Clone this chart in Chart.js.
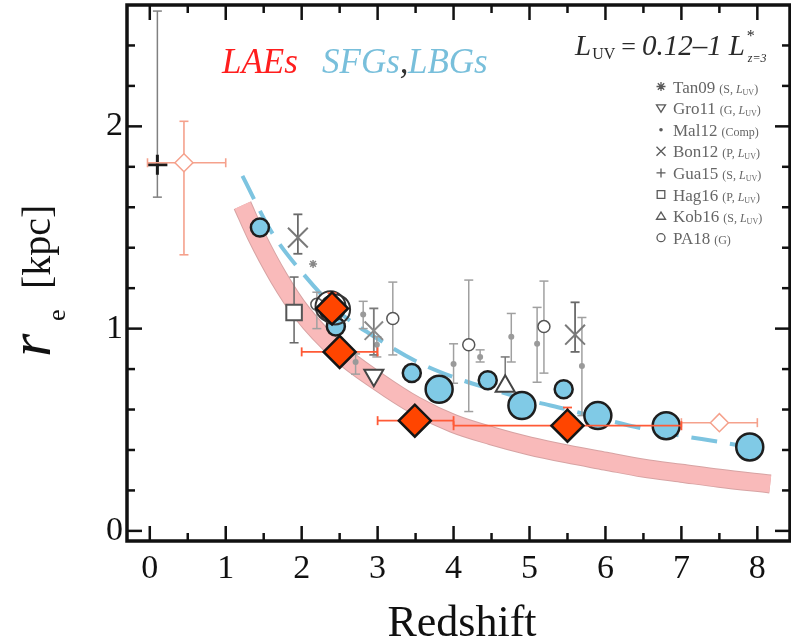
<!DOCTYPE html>
<html>
<head>
<meta charset="utf-8">
<script src="https://cdn.jsdelivr.net/npm/chart.js@4.4.0/dist/chart.umd.min.js"></script>
<style>
  html, body { margin: 0; padding: 0; background: #fff; }
</style>
</head>
<body>
<canvas id="chart" width="791" height="643"></canvas>
<script>
// === AXES
const xMajorTicks = [0, 1, 2, 3, 4, 5, 6, 7, 8];
const xMinorTicks = [0.5, 1.5, 2.5, 3.5, 4.5, 5.5, 6.5, 7.5];
const yMajorTicks = [0, 1, 2];
const yMinorTicks = [0.2, 0.4, 0.6, 0.8, 1.2, 1.4, 1.6, 1.8, 2.2, 2.4];

// === FITS
const laeFitZ = [1.22, 1.4, 1.7, 2.0, 2.5, 3.0, 3.5, 4.0, 4.5, 5.0, 5.5, 6.0, 6.5, 7.0, 7.5, 8.17];
const laeFitR = [1.61, 1.46, 1.25, 1.08, 0.88, 0.74, 0.62, 0.53, 0.47, 0.42, 0.38, 0.345, 0.31, 0.285, 0.26, 0.232];
const lbgFitZ = [1.22, 1.6, 2.0, 2.5, 3.0, 3.5, 4.0, 4.5, 5.0, 5.5, 6.0, 6.5, 7.0, 7.5, 8.1];
const lbgFitR = [1.755, 1.48, 1.28, 1.08, 0.95, 0.84, 0.76, 0.70, 0.645, 0.60, 0.55, 0.505, 0.47, 0.44, 0.40];

// === SFGs / LBGs (blue circles)
const sfgSmallZ = [1.45, 2.45, 3.45, 4.45, 5.45];
const sfgSmallR = [1.50, 1.01, 0.78, 0.745, 0.70];
const sfgLargeZ = [3.81, 4.90, 5.90, 6.80, 7.90];
const sfgLargeR = [0.70, 0.62, 0.57, 0.52, 0.415];
const ringZ = [2.38, 2.44];
const ringR = [1.11, 1.095];

// === LAEs (diamonds)
const laeZ = [2.40, 2.50, 3.49, 5.50];
const laeR = [1.10, 0.885, 0.545, 0.52];
const laeZLo = [2.40, 2.00, 3.00, 4.00];
const laeZHi = [2.40, 3.00, 4.00, 7.00];
const laeRLo = [1.10, 0.885, 0.545, 0.52];
const laeRHi = [1.175, 0.885, 0.545, 0.61];
const laeOpenZ = [0.45, 7.50];
const laeOpenR = [1.82, 0.535];
const laeOpenZLo = [-0.03, 7.00];
const laeOpenZHi = [1.00, 8.00];
const laeOpenRLo = [1.365, 0.535];
const laeOpenRHi = [2.025, 0.535];

// === literature points
const tanZ = [1.95, 5.60];
const tanR = [1.45, 0.97];
const tanRLo = [1.37, 0.885];
const tanRHi = [1.565, 1.13];
const tanSmallZ = [2.15];
const tanSmallR = [1.32];
const bonZ = [2.95];
const bonR = [0.99];
const bonRLo = [0.87];
const bonRHi = [1.10];
const groZ = [2.95];
const groR = [0.77];
const malZ = [2.71, 2.81, 2.99, 4.00, 4.35, 4.76, 5.10, 5.69];
const malR = [0.835, 1.07, 0.92, 0.825, 0.86, 0.96, 0.925, 0.815];
const malRLo = [0.775, 1.00, 0.86, 0.73, 0.835, 0.835, 0.735, 0.57];
const malRHi = [0.875, 1.135, 0.96, 0.925, 0.895, 1.075, 1.105, 1.055];
const guaZ = [0.10];
const guaR = [1.81];
const guaRLo = [1.65];
const guaRHi = [2.57];
const hagZ = [1.90];
const hagR = [1.08];
const hagRLo = [0.93];
const hagRHi = [1.255];
const kobZ = [4.68];
const kobR = [0.715];
const kobRLo = [0.715];
const kobRHi = [0.86];
const paZ = [2.20, 3.20, 4.20, 5.19];
const paR = [1.12, 1.05, 0.92, 1.01];
const paRLo = [1.00, 0.87, 0.59, 0.78];
const paRHi = [1.18, 1.23, 1.24, 1.235];

// === legend
const legendNames = ['Tan09', 'Gro11', 'Mal12', 'Bon12', 'Gua15', 'Hag16', 'Kob16', 'PA18'];
const legendNotes = ['S, L', 'G, L', 'Comp', 'P, L', 'S, L', 'P, L', 'S, L', 'G'];
const legendSymbols = ['star', 'triDown', 'dot', 'x', 'plus', 'square', 'triUp', 'circle'];

const SERIF = '"Liberation Serif", "Times New Roman", serif';
const pts = (xs, ys) => xs.map((v, i) => ({ x: v, y: ys[i] }));

function curve(xs, ys, o) {
  return Object.assign({ data: pts(xs, ys), showLine: true, pointRadius: 0, fill: false,
    cubicInterpolationMode: 'monotone' }, o);
}
function markers(xs, ys, o) {
  return Object.assign({ data: pts(xs, ys), showLine: false, pointHoverRadius: o.pointRadius }, o);
}

const GREY_ERR = '#a0a0a0';

const datasets = [
  curve(laeFitZ, laeFitR, { borderColor: '#d7a3a3', borderWidth: 19, order: 100 }),
  curve(laeFitZ, laeFitR, { borderColor: '#f9baba', borderWidth: 17, order: 99 }),
  curve(lbgFitZ, lbgFitR, { borderColor: '#7dc4e0', borderWidth: 4, borderDash: [26, 13], order: 90 }),

  markers(malZ, malR, { pointStyle: 'circle', pointRadius: 3, pointBackgroundColor: '#9a9a9a',
    pointBorderColor: '#9a9a9a', pointBorderWidth: 0, order: 60,
    err: { yLo: malRLo, yHi: malRHi, color: GREY_ERR, width: 1.5 } }),
  markers(paZ, paR, { pointStyle: 'circle', pointRadius: 6, pointBackgroundColor: '#fff',
    pointBorderColor: '#555', pointBorderWidth: 1.5, order: 56,
    err: { yLo: paRLo, yHi: paRHi, color: GREY_ERR, width: 1.5 } }),
  markers(tanSmallZ, tanSmallR, { pointStyle: 'star', pointRadius: 4, pointBorderColor: '#888',
    pointBorderWidth: 1.5, order: 55 }),
  markers(tanZ, tanR, { pointStyle: 'crossRot', pointRadius: 14, pointBorderColor: '#7a7a7a',
    pointBorderWidth: 2, order: 55,
    err: { yLo: tanRLo, yHi: tanRHi, color: '#6a6a6a', width: 1.8 } }),
  markers(bonZ, bonR, { pointStyle: 'crossRot', pointRadius: 13, pointBorderColor: '#8a8a8a',
    pointBorderWidth: 2, order: 54,
    err: { yLo: bonRLo, yHi: bonRHi, color: '#7a7a7a', width: 1.8 } }),
  markers(groZ, groR, { pointStyle: 'triangle', pointRotation: 180, pointRadius: 11,
    pointBackgroundColor: '#fff', pointBorderColor: '#444', pointBorderWidth: 2, order: 50 }),
  markers(hagZ, hagR, { pointStyle: 'rect', pointRadius: 11, pointBackgroundColor: '#fff',
    pointBorderColor: '#555', pointBorderWidth: 2, order: 50,
    err: { yLo: hagRLo, yHi: hagRHi, color: '#666', width: 1.5 } }),
  markers(kobZ, kobR, { pointStyle: 'triangle', pointRadius: 11, pointBackgroundColor: '#fff',
    pointBorderColor: '#444', pointBorderWidth: 2, order: 50,
    err: { yLo: kobRLo, yHi: kobRHi, color: '#777', width: 1.5 } }),
  markers(guaZ, guaR, { pointStyle: 'cross', pointRadius: 10, pointBorderColor: '#1a1a1a',
    pointBorderWidth: 3, order: 50,
    err: { yLo: guaRLo, yHi: guaRHi, color: '#808080', width: 1.5 } }),

  markers(sfgSmallZ, sfgSmallR, { pointStyle: 'circle', pointRadius: 9, pointBackgroundColor: '#80cae6',
    pointBorderColor: '#1e1e1e', pointBorderWidth: 2.5, order: 40 }),
  markers(sfgLargeZ, sfgLargeR, { pointStyle: 'circle', pointRadius: 13.5, pointBackgroundColor: '#80cae6',
    pointBorderColor: '#1e1e1e', pointBorderWidth: 2.5, order: 40 }),
  markers(ringZ, ringR, { pointStyle: 'circle', pointRadius: 15, pointBackgroundColor: 'rgba(255,255,255,0)',
    pointBorderColor: '#333', pointBorderWidth: 2, order: 35 }),

  markers(laeOpenZ, laeOpenR, { pointStyle: 'rectRot', pointRadius: 9, pointBackgroundColor: '#fff',
    pointBorderColor: '#f5a18c', pointBorderWidth: 1.5, order: 20,
    err: { xLo: laeOpenZLo, xHi: laeOpenZHi, yLo: laeOpenRLo, yHi: laeOpenRHi, color: '#f5a18c', width: 1.6 } }),
  markers(laeZ, laeR, { pointStyle: 'rectRot', pointRadius: 16, pointBackgroundColor: '#ff4500',
    pointBorderColor: '#151515', pointBorderWidth: 2.5, order: 10,
    err: { xLo: laeZLo, xHi: laeZHi, yLo: laeRLo, yHi: laeRHi, color: '#ff5a36', width: 1.8 } })
];

// ====== error bars, drawn just before their own dataset
const errorBars = {
  id: 'errorBars',
  beforeDatasetDraw(chart, args) {
    const ds = chart.data.datasets[args.index];
    const e = ds.err;
    if (!e) return;
    const { ctx, scales: { x, y } } = chart;
    const cap = 4.5;
    const seg = (x1, y1, x2, y2) => { ctx.beginPath(); ctx.moveTo(x1, y1); ctx.lineTo(x2, y2); ctx.stroke(); };
    ctx.save();
    ctx.strokeStyle = e.color;
    ctx.lineWidth = e.width;
    ds.data.forEach((p, i) => {
      const px = x.getPixelForValue(p.x), py = y.getPixelForValue(p.y);
      if (e.yLo) {
        const pl = y.getPixelForValue(e.yLo[i]), ph = y.getPixelForValue(e.yHi[i]);
        if (pl !== ph) seg(px, pl, px, ph);
        if (e.yHi[i] > p.y) seg(px - cap, ph, px + cap, ph);
        if (e.yLo[i] < p.y) seg(px - cap, pl, px + cap, pl);
      }
      if (e.xLo) {
        const pl = x.getPixelForValue(e.xLo[i]), ph = x.getPixelForValue(e.xHi[i]);
        if (pl !== ph) seg(pl, py, ph, py);
        if (e.xHi[i] > p.x) seg(ph, py - cap, ph, py + cap);
        if (e.xLo[i] < p.x) seg(pl, py - cap, pl, py + cap);
      }
    });
    ctx.restore();
  }
};

// ====== frame with inward ticks on all four sides
const frameTicks = {
  id: 'frameTicks',
  afterDraw(chart) {
    const { ctx, chartArea: a, scales: { x, y } } = chart;
    const seg = (x1, y1, x2, y2) => { ctx.beginPath(); ctx.moveTo(x1, y1); ctx.lineTo(x2, y2); ctx.stroke(); };
    ctx.save();
    ctx.strokeStyle = '#111';
    ctx.lineWidth = 2.5;
    const xt = (v, len) => { const p = x.getPixelForValue(v); seg(p, a.bottom, p, a.bottom - len); seg(p, a.top, p, a.top + len); };
    const yt = (v, len) => { const p = y.getPixelForValue(v); seg(a.left, p, a.left + len, p); seg(a.right, p, a.right - len, p); };
    xMajorTicks.forEach(v => xt(v, 15));
    xMinorTicks.forEach(v => xt(v, 8));
    yMajorTicks.forEach(v => yt(v, 15));
    yMinorTicks.forEach(v => yt(v, 8));
    ctx.lineWidth = 3.5;
    ctx.strokeRect(a.left, a.top, a.right - a.left, a.bottom - a.top);
    ctx.restore();
  }
};

// ====== texts: axis titles, labels, legend
function drawSymbol(ctx, kind, cx, cy) {
  const s = 4.5;
  ctx.beginPath();
  if (kind === 'star') {
    for (let k = 0; k < 4; k++) {
      const ang = k * Math.PI / 4;
      ctx.moveTo(cx - s * Math.cos(ang), cy - s * Math.sin(ang));
      ctx.lineTo(cx + s * Math.cos(ang), cy + s * Math.sin(ang));
    }
    ctx.stroke();
  } else if (kind === 'triDown') {
    ctx.moveTo(cx - s, cy - s * 0.7); ctx.lineTo(cx + s, cy - s * 0.7); ctx.lineTo(cx, cy + s * 0.9); ctx.closePath(); ctx.stroke();
  } else if (kind === 'triUp') {
    ctx.moveTo(cx - s, cy + s * 0.7); ctx.lineTo(cx + s, cy + s * 0.7); ctx.lineTo(cx, cy - s * 0.9); ctx.closePath(); ctx.stroke();
  } else if (kind === 'dot') {
    ctx.arc(cx, cy, 1.8, 0, Math.PI * 2); ctx.fill();
  } else if (kind === 'x') {
    ctx.moveTo(cx - s, cy - s); ctx.lineTo(cx + s, cy + s); ctx.moveTo(cx + s, cy - s); ctx.lineTo(cx - s, cy + s); ctx.stroke();
  } else if (kind === 'plus') {
    ctx.moveTo(cx - s, cy); ctx.lineTo(cx + s, cy); ctx.moveTo(cx, cy - s); ctx.lineTo(cx, cy + s); ctx.stroke();
  } else if (kind === 'square') {
    ctx.rect(cx - 3.8, cy - 3.8, 7.6, 7.6); ctx.stroke();
  } else if (kind === 'circle') {
    ctx.arc(cx, cy, 4, 0, Math.PI * 2); ctx.stroke();
  }
}

const texts = {
  id: 'texts',
  afterDraw(chart) {
    const ctx = chart.ctx;
    ctx.save();
    ctx.textAlign = 'left';
    ctx.textBaseline = 'alphabetic';

    // y title: r_e [kpc]
    ctx.save();
    ctx.translate(50, 357);
    ctx.rotate(-Math.PI / 2);
    ctx.fillStyle = '#111';
    ctx.font = `italic 60px ${SERIF}`;
    ctx.fillText('r', 0, 0);
    ctx.font = `26px ${SERIF}`;
    ctx.fillText('e', 36, 15);
    ctx.font = `40px ${SERIF}`;
    ctx.fillText('[kpc]', 68, 0);
    ctx.restore();

    // x title
    ctx.fillStyle = '#111';
    ctx.font = `44px ${SERIF}`;
    ctx.textAlign = 'center';
    ctx.fillText('Redshift', 462, 636);
    ctx.textAlign = 'left';

    // sample labels
    ctx.font = `italic 35px ${SERIF}`;
    ctx.fillStyle = '#ff1e1e';
    ctx.fillText('LAEs', 222, 73);
    ctx.fillStyle = '#78bfdb';
    ctx.fillText('SFGs', 322, 73);
    const w = ctx.measureText('SFGs').width;
    ctx.fillStyle = '#333';
    ctx.fillText(',', 322 + w, 73);
    ctx.fillStyle = '#78bfdb';
    ctx.fillText('LBGs', 408, 73);

    // luminosity range, laid out piece by piece
    ctx.fillStyle = '#2a2a2a';
    let lx = 575;
    const put = (t, font, dy, gap) => { ctx.font = font; ctx.fillText(t, lx, 55 + dy); lx += ctx.measureText(t).width + gap; };
    put('L', `italic 29px ${SERIF}`, 0, 1);
    put('UV', `16px ${SERIF}`, 4, 6);
    put('=', `26px ${SERIF}`, 0, 6);
    put('0.12\u20131', `italic 29px ${SERIF}`, 0, 7);
    put('L', `italic 29px ${SERIF}`, 0, 2);
    ctx.font = `16px ${SERIF}`;
    ctx.fillText('*', lx, 41);
    ctx.font = `italic 12px ${SERIF}`;
    ctx.fillText('z=3', lx + 1, 62);

    // legend of literature samples
    legendNames.forEach((name, i) => {
      const cy = 86.5 + i * 21.6;
      ctx.strokeStyle = '#5a5a5a';
      ctx.fillStyle = '#5a5a5a';
      ctx.lineWidth = 1.3;
      drawSymbol(ctx, legendSymbols[i], 661, cy);
      ctx.fillStyle = '#666';
      ctx.font = `17px ${SERIF}`;
      ctx.fillText(name, 673, cy + 6);
      let xx = 673 + ctx.measureText(name).width + 4;
      const note = legendNotes[i];
      ctx.font = `12px ${SERIF}`;
      if (note.endsWith('L')) {
        const head = '(' + note.slice(0, -1);
        ctx.fillText(head, xx, cy + 6); xx += ctx.measureText(head).width;
        ctx.font = `italic 12px ${SERIF}`;
        ctx.fillText('L', xx, cy + 6); xx += ctx.measureText('L').width;
        ctx.font = `8px ${SERIF}`;
        ctx.fillText('UV', xx, cy + 8); xx += ctx.measureText('UV').width;
        ctx.font = `12px ${SERIF}`;
        ctx.fillText(')', xx, cy + 6);
      } else {
        ctx.fillText('(' + note + ')', xx, cy + 6);
      }
    });
    ctx.restore();
  }
};

new Chart(document.getElementById('chart').getContext('2d'), {
  type: 'scatter',
  data: { datasets },
  options: {
    responsive: false,
    animation: false,
    events: [],
    layout: { autoPadding: false, padding: { top: 5, right: 1, left: 0, bottom: 0 } },
    plugins: { legend: { display: false }, tooltip: { enabled: false } },
    scales: {
      x: {
        type: 'linear', min: -0.3, max: 8.43,
        afterBuildTicks: s => { s.ticks = xMajorTicks.map(v => ({ value: v })); },
        afterFit: s => { s.height = 102; s.paddingLeft = 0; s.paddingRight = 0; },
        grid: { display: false, drawTicks: false },
        border: { display: false },
        ticks: { padding: 8, color: '#111', font: { family: SERIF, size: 34 }, maxRotation: 0, autoSkip: false,
          callback: v => String(v) }
      },
      y: {
        type: 'linear', min: -0.05, max: 2.6,
        afterBuildTicks: s => { s.ticks = yMajorTicks.map(v => ({ value: v })); },
        afterFit: s => { s.width = 127; s.paddingTop = 0; s.paddingBottom = 0; },
        grid: { display: false, drawTicks: false },
        border: { display: false },
        ticks: { padding: 4, color: '#111', font: { family: SERIF, size: 34 }, autoSkip: false,
          callback: v => String(v) }
      }
    }
  },
  plugins: [errorBars, frameTicks, texts]
});
</script>
</body>
</html>
